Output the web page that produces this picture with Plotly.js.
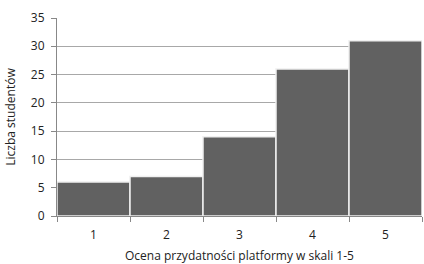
<!DOCTYPE html>
<html><head><meta charset="utf-8">
<script src="https://cdn.plot.ly/plotly-3.0.1.min.js"></script>
<style>html,body{margin:0;padding:0;background:#fff}#c{width:424px;height:264px}</style>
</head><body><div id="c"></div>
<script>
const categories = ["1","2","3","4","5"];
const counts = [6, 7, 14, 26, 31];
const yTicks = [0,5,10,15,20,25,30,35];

Plotly.newPlot('c', [{
  type: 'bar', x: categories, y: counts,
  marker: {color: '#616161', line: {color: '#f0f0f0', width: 1.5}},
  hoverinfo: 'skip'
}], {
  width: 424, height: 264,
  margin: {l: 57, r: 2, t: 18, b: 48},
  bargap: 0,
  paper_bgcolor: '#fff', plot_bgcolor: '#fff',
  font: {family: 'Open Sans, DejaVu Sans, sans-serif', size: 12, color: '#222'},
  xaxis: {
    type: 'category', tickson: 'boundaries', ticks: 'outside', ticklen: 5, tickcolor: '#888',
    showline: true, linecolor: '#888', linewidth: 1, showgrid: false,
    ticklabelstandoff: 8,
    title: {text: 'Ocena przydatności platformy w skali 1-5', font: {size: 12}, standoff: 10},
    tickfont: {size: 12}
  },
  yaxis: {
    range: [0, 35], tickvals: yTicks, ticks: 'outside', ticklen: 5, tickcolor: '#888',
    showline: true, linecolor: '#888', linewidth: 1, ticklabelstandoff: 4,
    showgrid: true, gridcolor: '#a8a8a8', gridwidth: 1, zeroline: false,
    title: {text: 'Liczba studentów', font: {size: 12}, standoff: 12},
    tickfont: {size: 12}
  },
  showlegend: false
}, {staticPlot: true});
</script></body></html>
